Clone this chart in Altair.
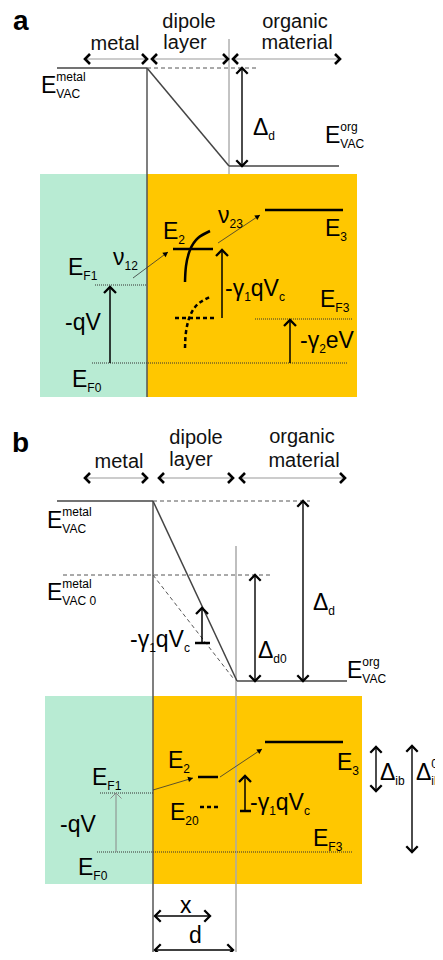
import math
import altair as alt
import pandas as pd

# ---------------- diagram data (figure pixel coordinates) ----------------
panel_letters = [("a", 13, 30), ("b", 12, 452)]
region_titles = [
    ("metal", 115, 50), ("dipole", 189, 28), ("layer", 185, 49),
    ("organic", 295, 28), ("material", 297, 49),
    ("metal", 119, 468), ("dipole", 196, 444), ("layer", 191, 466),
    ("organic", 302, 443), ("material", 304, 467),
]
metal_blocks = [(40, 174, 147, 397), (45, 696, 153, 884)]
organic_blocks = [(147, 174, 357, 397), (153, 696, 362, 884)]

vacuum_levels = [(57, 68, 147, 68), (147, 68, 229, 166), (229, 166, 339, 166),
                 (57, 501, 153, 501), (153, 501, 237, 681), (237, 681, 347, 681)]
interfaces = [(147, 68, 147, 397), (153, 501, 153, 970)]
dipole_edge_a = [(229, 39, 229, 174)]
dipole_edge_b = [(236, 546, 236, 970)]
reference_dashed = [(147, 68, 258, 68), (153, 501, 310, 501),
                    (63, 575, 273, 575), (153, 575, 233, 678)]
fermi_dotted = [(95, 285, 147, 285), (92, 363, 347, 363), (255, 319, 352, 319),
                (100, 793, 153, 793), (97, 852, 352, 852)]
states_solid = [(265, 210, 343, 210), (173, 249, 213, 249),
                (265, 742, 343, 742), (198, 777, 218, 777),
                (195, 643, 210, 643), (240, 811, 251, 811)]
states_dashed = [(175, 318, 215, 318), (200, 807, 218, 807)]

arc_solid = [(185, 282), (186, 266), (190, 250), (198, 238), (210, 231)]
arc_dashed = [(185, 348), (186, 332), (190, 316), (198, 304), (210, 297)]

region_arrows = [(85, 59, 147, 59), (152, 59, 228, 59), (233, 59, 340, 59),
                 (85, 478, 147, 478), (159, 478, 233, 478), (240, 478, 345, 478)]
gap_arrows = [(242, 68, 242, 166), (255, 575, 255, 681), (303, 501, 303, 681),
              (376, 747, 376, 791), (412, 746, 412, 852),
              (155, 916, 210, 916), (155, 950, 233, 950)]
shift_arrows = [(110, 363, 110, 287), (222, 318, 222, 250), (290, 363, 290, 320),
                (202, 643, 202, 608), (245, 811, 245, 776)]
bias_arrow_b = [(116, 852, 116, 793)]
hop_arrows = [(133, 278, 168, 252), (218, 243, 260, 215),
              (153, 790, 193, 778), (220, 777, 262, 749)]

symbols = [
    (41, 93, [("E", "m"), ("metal", "p"), ("VAC", "b")]),
    (325, 143, [("E", "m"), ("org", "p"), ("VAC", "b")]),
    (253, 135, [("Δ", "m"), ("d", "b")]),
    (325, 236, [("E", "m"), ("3", "b")]),
    (218, 223, [("ν", "m"), ("23", "b")]),
    (163, 239, [("E", "m"), ("2", "b")]),
    (113, 265, [("ν", "m"), ("12", "b")]),
    (68, 275, [("E", "m"), ("F1", "b")]),
    (65, 330, [("-qV", "m")]),
    (72, 387, [("E", "m"), ("F0", "b")]),
    (225, 296, [("-γ", "m"), ("1", "b"), ("qV", "m"), ("c", "b")]),
    (320, 307, [("E", "m"), ("F3", "b")]),
    (300, 348, [("-γ", "m"), ("2", "b"), ("eV", "m")]),
    (47, 528, [("E", "m"), ("metal", "p"), ("VAC", "b")]),
    (47, 600, [("E", "m"), ("metal", "p"), ("VAC 0", "b")]),
    (347, 678, [("E", "m"), ("org", "p"), ("VAC", "b")]),
    (313, 610, [("Δ", "m"), ("d", "b")]),
    (258, 658, [("Δ", "m"), ("d0", "b")]),
    (130, 647, [("-γ", "m"), ("1", "b"), ("qV", "m"), ("c", "b")]),
    (337, 770, [("E", "m"), ("3", "b")]),
    (168, 768, [("E", "m"), ("2", "b")]),
    (92, 785, [("E", "m"), ("F1", "b")]),
    (60, 832, [("-qV", "m")]),
    (78, 875, [("E", "m"), ("F0", "b")]),
    (170, 820, [("E", "m"), ("20", "b")]),
    (250, 810, [("-γ", "m"), ("1", "b"), ("qV", "m"), ("c", "b")]),
    (313, 846, [("E", "m"), ("F3", "b")]),
    (380, 780, [("Δ", "m"), ("ib", "b")]),
    (416, 780, [("Δ", "m"), ("0", "p"), ("ib", "b")]),
    (180, 913, [("x", "m")]),
    (189, 943, [("d", "m")]),
]

# ---------------- helpers ----------------
MAIN, SMALL = 23, 12
FONT = "Liberation Sans"
WIDTHS = {" ": 278, "-": 333, "A": 667, "C": 722, "E": 667, "F": 611, "V": 667,
          "a": 556, "c": 500, "d": 556, "e": 556, "g": 556, "i": 222, "b": 556,
          "l": 222, "m": 833, "o": 556, "r": 333, "t": 278, "q": 556, "x": 500,
          "Δ": 668, "γ": 500, "ν": 500}


def text_width(s, fs):
    return sum(WIDTHS.get(c, 556) for c in s) * fs / 1000.0


def layout(entries):
    rows = []
    for x0, y0, parts in entries:
        cur, sup_w = x0, 0.0
        for txt, role in parts:
            fs = MAIN if role == "m" else SMALL
            w = text_width(txt, fs)
            if role == "m":
                rows.append(dict(x=cur, y=y0, t=txt, fs=fs))
                cur += w
                sup_w = 0.0
            elif role == "p":
                rows.append(dict(x=cur, y=y0 - 12, t=txt, fs=fs))
                sup_w = w
            else:
                rows.append(dict(x=cur, y=y0 + 5, t=txt, fs=fs))
                cur += max(w, sup_w)
                sup_w = 0.0
    return pd.DataFrame(rows)


def seg_df(segs):
    return pd.DataFrame(segs, columns=["x", "y", "x2", "y2"])


def heads(segs, both=False):
    rows = []
    for x1, y1, x2, y2 in segs:
        a = math.degrees(math.atan2(y2 - y1, x2 - x1)) % 360
        rows.append(dict(x=x2, y=y2, angle=a))
        if both:
            rows.append(dict(x=x1, y=y1, angle=(a + 180) % 360))
    return pd.DataFrame(rows)


xs = alt.Scale(domain=[8, 435], nice=False, zero=False)
ys = alt.Scale(domain=[8, 952], nice=False, zero=False, reverse=True)
X = alt.X("x:Q", scale=xs, axis=None)
Y = alt.Y("y:Q", scale=ys, axis=None)


def rules(segs, color, width, dash=None):
    kw = dict(color=color, strokeWidth=width)
    if dash:
        kw["strokeDash"] = dash
    return alt.Chart(seg_df(segs)).mark_rule(**kw).encode(
        x=X, y=Y, x2="x2:Q", y2="y2:Q")


def blocks(rects, color):
    return alt.Chart(seg_df(rects)).mark_rect(color=color).encode(
        x=X, y=Y, x2="x2:Q", y2="y2:Q")


CHEVRON = "M-1,-1L0,0L-1,1"
TRIANGLE = "M-1,-0.55L0,0L-1,0.55Z"


def arrowheads(df, shape, size, color, width, filled=False):
    return alt.Chart(df).mark_point(
        shape=shape, size=size, filled=filled, color=color, opacity=1,
        strokeWidth=width, strokeJoin="miter").encode(
        x=X, y=Y, angle=alt.Angle("angle:Q", scale=None))


def curve(points, name):
    return pd.DataFrame([dict(x=p[0], y=p[1], k=i, c=name) for i, p in enumerate(points)])


arcs_solid = alt.Chart(curve(arc_solid, "s")).mark_line(
    interpolate="natural", color="black", strokeWidth=2.5).encode(
    x=X, y=Y, order="k:Q")
arcs_dashed = alt.Chart(curve(arc_dashed, "d")).mark_line(
    interpolate="natural", color="black", strokeWidth=2.5, strokeDash=[4, 3]).encode(
    x=X, y=Y, order="k:Q")

sym_df = layout(symbols)
sym_text = alt.Chart(sym_df).mark_text(
    align="left", baseline="alphabetic", font=FONT, color="black").encode(
    x=X, y=Y, text="t:N", size=alt.Size("fs:Q", scale=None))

title_df = pd.DataFrame(region_titles, columns=["t", "x", "y"])
title_text = alt.Chart(title_df).mark_text(
    align="center", baseline="alphabetic", font=FONT, fontSize=20, color="#111").encode(
    x=X, y=Y, text="t:N")

letter_df = pd.DataFrame(panel_letters, columns=["t", "x", "y"])
letter_text = alt.Chart(letter_df).mark_text(
    align="left", baseline="alphabetic", font=FONT, fontSize=28, fontWeight="bold",
    color="black").encode(x=X, y=Y, text="t:N")

layers = [
    blocks(metal_blocks, "#b8ebd3"),
    blocks(organic_blocks, "#ffc700"),
    rules(dipole_edge_a, "#888888", 1),
    rules(dipole_edge_b, "#aaaaaa", 1.5),
    rules(interfaces, "#555555", 1.5),
    rules(vacuum_levels, "#444444", 1.5),
    rules(reference_dashed, "#555555", 1, [4, 3]),
    rules(fermi_dotted, "#333333", 1.2, [1, 1]),
    rules(states_solid, "black", 2.5),
    rules(states_dashed, "black", 2.5, [4, 3]),
    arcs_solid,
    arcs_dashed,
    rules(region_arrows, "#999999", 1),
    arrowheads(heads(region_arrows, both=True), CHEVRON, 100, "black", 2.6),
    rules(gap_arrows, "black", 1.4),
    arrowheads(heads(gap_arrows, both=True), CHEVRON, 130, "black", 2.3),
    rules(shift_arrows, "black", 1.5),
    arrowheads(heads(shift_arrows), CHEVRON, 144, "black", 2.3),
    rules(bias_arrow_b, "#888888", 1),
    arrowheads(heads(bias_arrow_b), CHEVRON, 121, "#888888", 1),
    rules(hop_arrows, "#333333", 0.8),
    arrowheads(heads(hop_arrows), TRIANGLE, 100, "black", 0.5, filled=True),
    sym_text,
    title_text,
    letter_text,
]

chart = alt.layer(*layers).properties(
    width=427, height=944, padding=0,
    autosize=alt.AutoSizeParams(type="none"),
    background="white",
).configure_view(stroke=None)

chart.save("out.html", embed_options={"renderer": "svg", "actions": False})
